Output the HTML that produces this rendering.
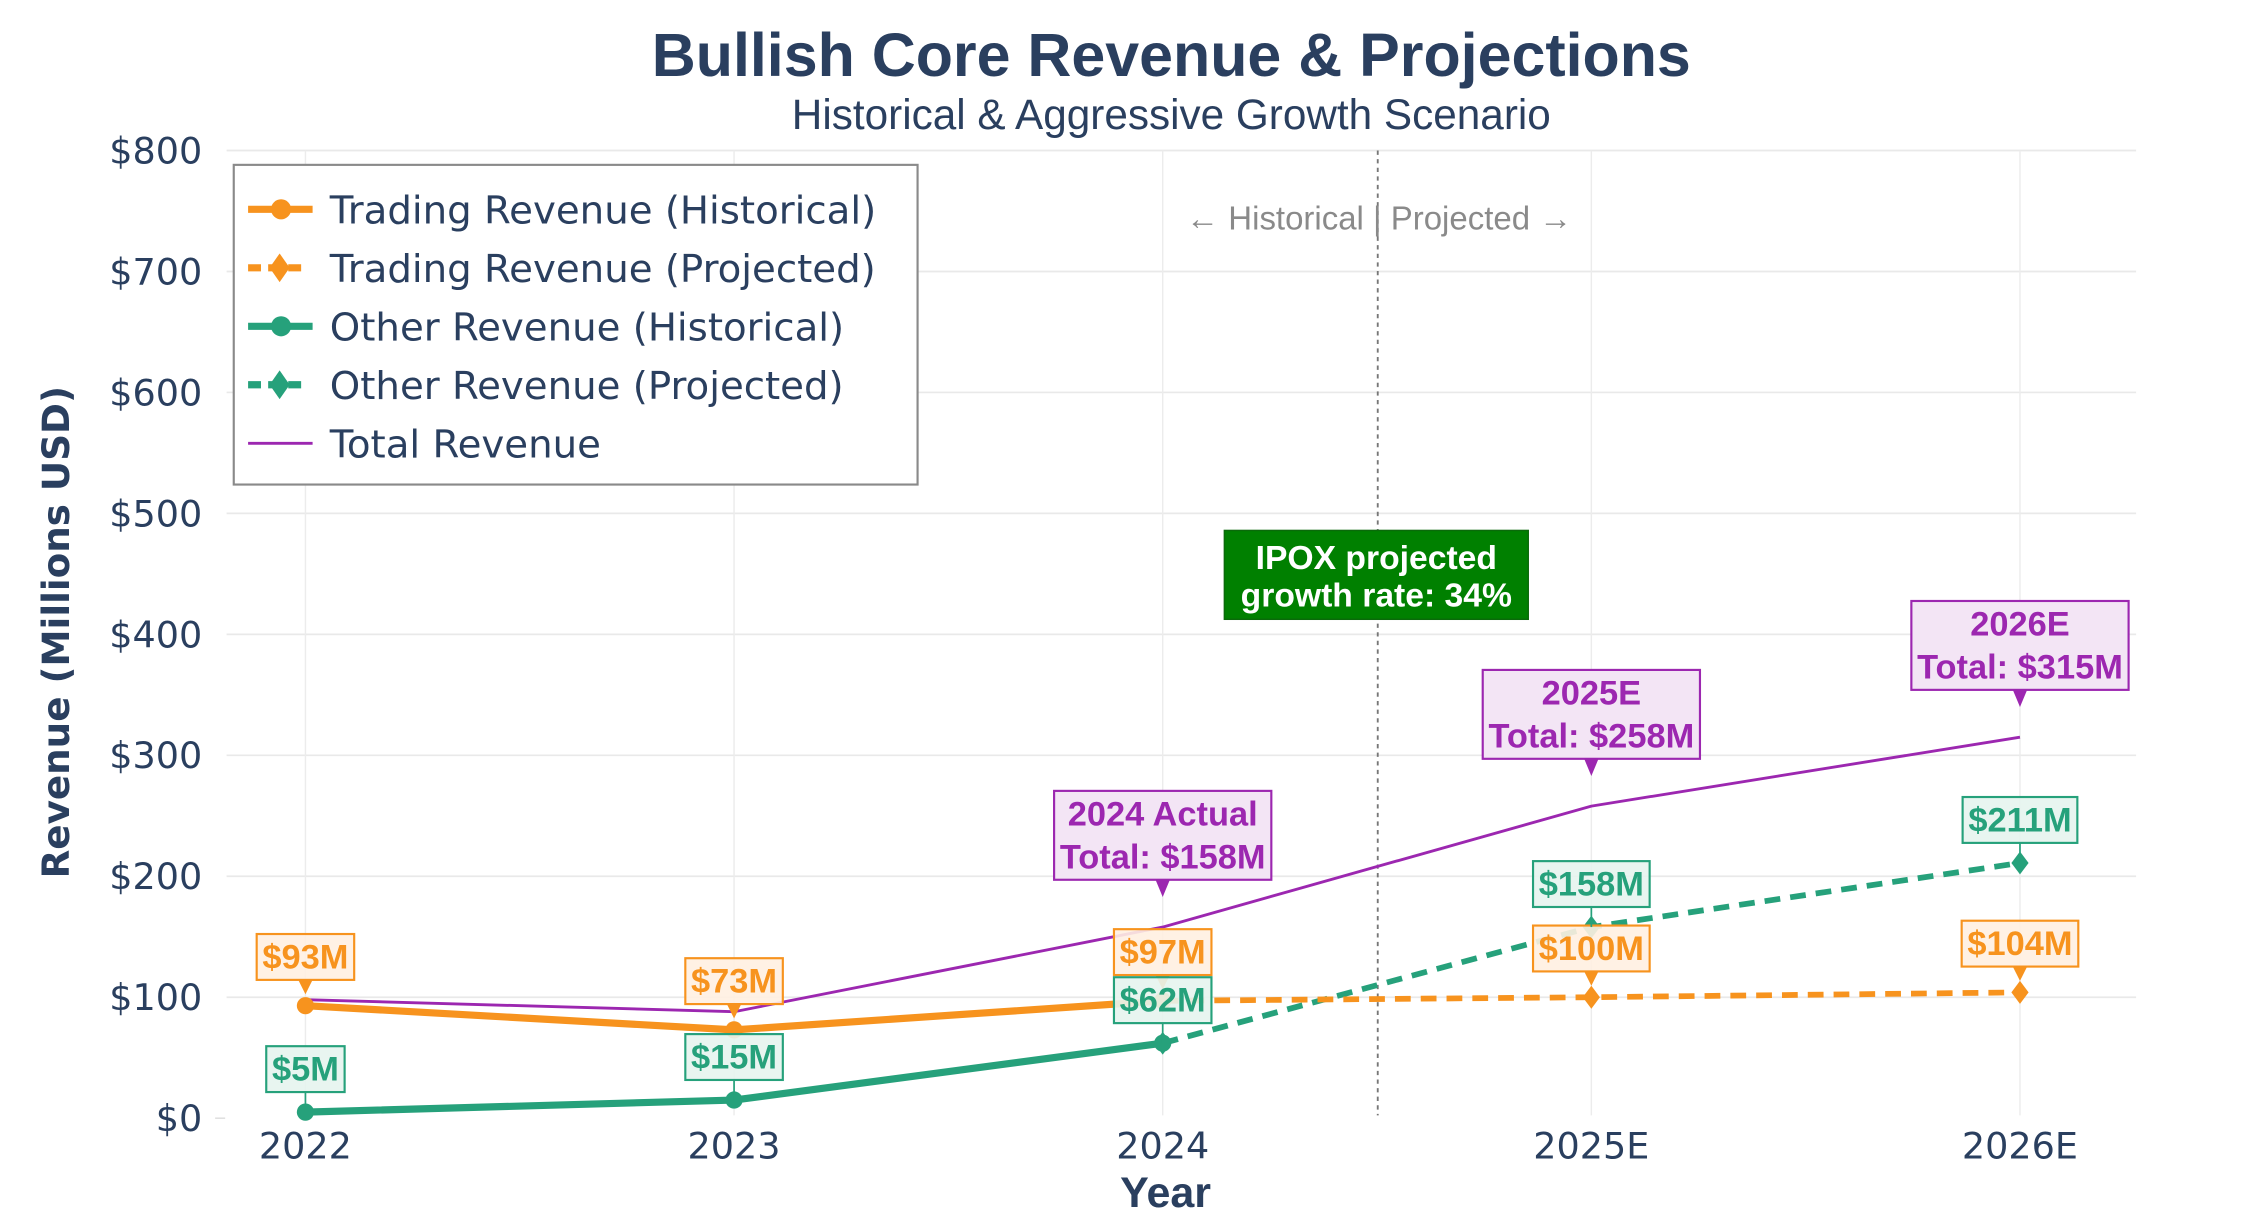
<!DOCTYPE html>
<html><head><meta charset="utf-8">
<style>
html,body{margin:0;padding:0;background:#fff;}
svg{display:block;}
</style></head>
<body>
<svg id="chart" width="2248" height="1230" viewBox="0 0 1568 858" xmlns="http://www.w3.org/2000/svg">
<rect x="0" y="0" width="1568" height="858" fill="#fff"/>
<text x="817" y="53" text-anchor="middle" font-family="Liberation Sans, Arial, sans-serif" font-weight="bold" font-size="42.5" fill="#2a3f5f">Bullish Core Revenue &amp; Projections</text>
<text x="817" y="90" text-anchor="middle" font-family="Liberation Sans, Arial, sans-serif" font-size="29.5" fill="#2a3f5f">Historical &amp; Aggressive Growth Scenario</text>
<g id="grid"></g>
<g id="axes"></g>
<line x1="961" y1="105" x2="961" y2="778" stroke="#777" stroke-width="1.3" stroke-dasharray="3,3"/>
<text x="962" y="160" text-anchor="middle" font-family="Liberation Sans, Arial, sans-serif" font-size="23" fill="#8a8a8a">← Historical | Projected →</text>
<g id="series"></g>
<g id="labels"></g>
<g>
<rect x="854" y="370" width="212" height="62" fill="#008000" stroke="#0a6a0a" stroke-width="1"/>
<text x="960" y="397" text-anchor="middle" font-family="Liberation Sans, Arial, sans-serif" font-weight="bold" font-size="23.5" fill="#fff">IPOX projected</text>
<text x="960" y="423" text-anchor="middle" font-family="Liberation Sans, Arial, sans-serif" font-weight="bold" font-size="23.5" fill="#fff">growth rate: 34%</text>
</g>
<g id="legend">
<rect x="163" y="115" width="477" height="223" fill="#fff" stroke="#8a8a8a" stroke-width="1.5"/>
</g>
<text transform="translate(48,441) rotate(-90)" text-anchor="middle" font-family="DejaVu Sans, Verdana, sans-serif" font-weight="bold" font-size="26" fill="#2a3f5f">Revenue (Millions USD)</text>
<text x="813" y="842" text-anchor="middle" font-family="Liberation Sans, Arial, sans-serif" font-weight="bold" font-size="30" fill="#2a3f5f">Year</text>
</svg>
<script>
const categories = ["2022","2023","2024","2025E","2026E"];
const tradingHist = [93, 73, 97];
const tradingProj = [null, null, 97, 100, 104];
const otherHist = [5, 15, 62];
const otherProj = [null, null, 62, 158, 211];
const totalRev = [98, 88, 158, 258, 315];
const yTicks = [0,100,200,300,400,500,600,700,800];
const yTickLabels = ["$0","$100","$200","$300","$400","$500","$600","$700","$800"];
const tradingLabels = ["$93M","$73M","$97M","$100M","$104M"];
const tradingLabelVals = [93,73,97,100,104];
const otherLabels = ["$5M","$15M","$62M","$158M","$211M"];
const otherLabelVals = [5,15,62,158,211];
const totalLabelIdx = [2,3,4];
const totalLabelLine1 = ["2024 Actual","2025E","2026E"];
const totalLabelLine2 = ["Total: $158M","Total: $258M","Total: $315M"];

const NS="http://www.w3.org/2000/svg";
const X0=213, DX=299.0, Y0=780, YPX=675/800;
function xs(i){return X0+i*DX;}
function ys(v){return Y0-v*YPX;}
function mk(tag, attrs, parent){const e=document.createElementNS(NS,tag);for(const k in attrs)e.setAttribute(k,attrs[k]);parent.appendChild(e);return e;}
const ORANGE="#f7931e", GREEN="#26a17b", PURPLE="#9c27b0", AXC="#2a3f5f";
const grid=document.getElementById('grid'), axes=document.getElementById('axes');
yTicks.forEach((t,i)=>{
  if(t>0){const l=mk('line',{x1:158,x2:1490,y1:ys(t),y2:ys(t),stroke:'#e9e9e9','stroke-width':1.2},grid);
  
  }
  const tx=mk('text',{x:141,y:ys(t)+9,'text-anchor':'end','font-family':'DejaVu Sans, Verdana, sans-serif','font-size':25.5,fill:AXC},axes);
  tx.textContent=yTickLabels[i];
  
  
});
mk('line',{x1:150,x2:157,y1:Y0,y2:Y0,stroke:'#ddd','stroke-width':1},axes);
categories.forEach((c,i)=>{
  const l=mk('line',{x1:xs(i),x2:xs(i),y1:105,y2:778,stroke:'#ececec','stroke-width':1},grid);
  
  
  const tx=mk('text',{x:xs(i),y:808,'text-anchor':'middle','font-family':'DejaVu Sans, Verdana, sans-serif','font-size':25.5,fill:AXC},axes);
  tx.textContent=c;
  
  
});
const series=document.getElementById('series');
function pts(arr){const p=[];arr.forEach((v,i)=>{if(v!==null&&v!==undefined)p.push([xs(i),ys(v)]);});return p;}
function line(arr,color,w,dash,name){
  const p=pts(arr);
  const pl=mk('polyline',{points:p.map(q=>q.join(',')).join(' '),fill:'none',stroke:color,'stroke-width':w,'stroke-linejoin':'round'},series);
  if(dash)pl.setAttribute('stroke-dasharray',dash);
  
  
  return p;
}
function circles(p,color,name){p.forEach(q=>{const c=mk('circle',{cx:q[0],cy:q[1],r:6,fill:color},series);
  
  });}
function diamonds(p,color,name){p.forEach(q=>{const d=mk('polygon',{points:`${q[0]},${q[1]-8} ${q[0]+6},${q[1]} ${q[0]},${q[1]+8} ${q[0]-6},${q[1]}`,fill:color},series);
  
  });}
line(totalRev,PURPLE,2,null,'total-revenue-line');
const op=line(otherProj,GREEN,4,'11,7','other-projected-line'); diamonds(op,GREEN,'other-projected-point');
const tp=line(tradingProj,ORANGE,4,'11,7','trading-projected-line'); diamonds(tp,ORANGE,'trading-projected-point');
const oh=line(otherHist,GREEN,5,null,'other-historical-line'); circles(oh,GREEN,'other-historical-point');
const th=line(tradingHist,ORANGE,5,null,'trading-historical-line'); circles(th,ORANGE,'trading-historical-point');

const labels=document.getElementById('labels');
function box(cx,bottom,lines,color,fill,name,arrow,tip){
  const g=mk('g',{},labels);
  
  
  const lh=30, h=lines.length*lh+2;
  const r=mk('rect',{y:bottom-h,height:h,fill:fill,stroke:color,'stroke-width':1.5},g);
  let maxw=0;
  lines.forEach((s,k)=>{const t=mk('text',{x:cx,y:bottom-h+24+k*lh,'text-anchor':'middle','font-family':'Liberation Sans, Arial, sans-serif','font-weight':'bold','font-size':24,fill:color},g);t.textContent=s;maxw=Math.max(maxw,t.getComputedTextLength());});
  const w=maxw+8;r.setAttribute('x',cx-w/2);r.setAttribute('width',w);
  if(arrow==='tri'){mk('polygon',{points:`${cx-5},${bottom} ${cx+5},${bottom} ${cx},${tip}`,fill:color},g);}
  else {mk('line',{x1:cx,x2:cx,y1:bottom,y2:tip,stroke:color,'stroke-width':1.2},g);}
}
tradingLabels.forEach((s,i)=>{const py=ys(tradingLabelVals[i]);box(xs(i),py-18,[s],ORANGE,'rgba(255,240,225,0.9)','trading-value-label','tri',py-8);});
otherLabels.forEach((s,i)=>{const py=ys(otherLabelVals[i]);box(xs(i),py-14,[s],GREEN,'rgba(230,244,238,0.9)','other-value-label','line',py);});
totalLabelIdx.forEach((idx,k)=>{const py=ys(totalRev[idx]);box(xs(idx),py-33,[totalLabelLine1[k],totalLabelLine2[k]],PURPLE,'#f3e5f5','total-value-label','tri',py-21);});

const legend=document.getElementById('legend');
const legNames=["Trading Revenue (Historical)","Trading Revenue (Projected)","Other Revenue (Historical)","Other Revenue (Projected)","Total Revenue"];
const legColors=[ORANGE,ORANGE,GREEN,GREEN,PURPLE];
const legMarkers=["circle","diamond","circle","diamond","none"];
legNames.forEach((n,i)=>{
  const y=146+i*40.8;
  const g=mk('g',{},legend);
  
  
  const isProj=legMarkers[i]==='diamond';
  mk('line',{x1:173,x2:isProj?215:218,y1:y,y2:y,stroke:legColors[i],'stroke-width':i===4?2:5,'stroke-dasharray':isProj?'9,5':'none'},g);
  if(legMarkers[i]==='circle')mk('circle',{cx:196,cy:y,r:7,fill:legColors[i]},g);
  if(legMarkers[i]==='diamond')mk('polygon',{points:`195,${y-10} 202,${y} 195,${y+10} 188,${y}`,fill:legColors[i]},g);
  const t=mk('text',{x:230,y:y+10,'font-family':'DejaVu Sans, Verdana, sans-serif','font-size':27,fill:AXC},g);t.textContent=n;
});
</script>
</body></html>
